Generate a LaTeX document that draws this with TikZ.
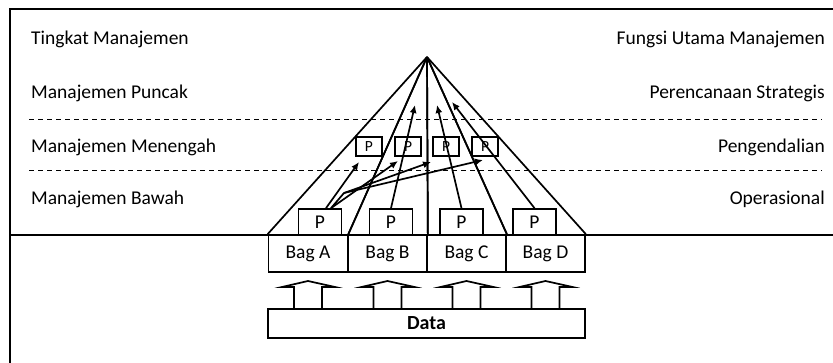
\documentclass[tikz,border=0pt]{standalone}
\usepackage{fontspec}
\setmainfont{Carlito}
\usetikzlibrary{arrows.meta}
\begin{document}
\begin{tikzpicture}[x=1pt,y=-1pt,
  lbl/.style={font=\fontsize{19.5}{22}\selectfont, inner sep=0pt},
  box/.style={draw, line width=1.7pt, inner sep=0pt, font=\fontsize{19.5}{22}\selectfont},
  bagbox/.style={box, minimum width=79pt, minimum height=37pt},
  pbig/.style={box, minimum width=43pt, minimum height=26pt},
  psmall/.style={box, minimum width=26pt, minimum height=19pt, font=\fontsize{15.5}{17}\selectfont},
  frame/.style={line width=1.7pt},
  apexline/.style={line width=1.7pt},
  arr/.style={line width=1.7pt, -{Latex[length=8pt,width=7pt]}},
  level/.style={dashed, line width=0.9pt, dash pattern=on 5pt off 4pt}]
\useasboundingbox (0,0) rectangle (833,363);
% frame
\draw[frame] (10,363) -- (10,9) -- (833,9);
\draw[frame] (10,235) -- (833,235);
\draw[level] (29,119) -- (822,119);
\draw[level] (29,170) -- (822,170);
% labels
\node[lbl, anchor=base west] (t1) at (31,45) {Tingkat Manajemen};
\node[lbl, anchor=base west] (t2) at (31,99) {Manajemen Puncak};
\node[lbl, anchor=base west] (t3) at (31,153) {Manajemen Menengah};
\node[lbl, anchor=base west] (t4) at (31,205) {Manajemen Bawah};
\node[lbl, anchor=base east] (f1) at (825,45) {Fungsi Utama Manajemen};
\node[lbl, anchor=base east] (f2) at (825,99) {Perencanaan Strategis};
\node[lbl, anchor=base east] (f3) at (825,153) {Pengendalian};
\node[lbl, anchor=base east] (f4) at (825,205) {Operasional};
% bags
\node[bagbox] (bagA) at (308,253.5) {Bag A};
\node[bagbox] (bagB) at (387.5,253.5) {Bag B};
\node[bagbox] (bagC) at (466.5,253.5) {Bag C};
\node[bagbox] (bagD) at (545.5,253.5) {Bag D};
\node[box, minimum width=317pt, minimum height=29pt, font=\fontsize{20}{22}\selectfont\bfseries] (data) at (426.5,323.5) {Data};
% up arrows
\foreach \c in {308,387.5,466.5,545.5}
  \draw[line width=1.7pt] (\c-14,309) -- (\c-14,287) -- (\c-26,287) -- (\c,281) -- (\c+27,287) -- (\c+14,287) -- (\c+14,309);
% pyramid
\coordinate (apex) at (427,57);
\draw[apexline] (apex) -- (bagA.north west);
\draw[apexline] (apex) -- (bagA.north east);
\draw[apexline] (apex) -- (bagB.north east);
\draw[apexline] (apex) -- (bagC.north east);
\draw[apexline] (apex) -- (bagD.north east);
% P boxes
\node[pbig] (pA) at (320,222) {P};
\node[pbig] (pB) at (391,222) {P};
\node[pbig] (pC) at (461.5,222) {P};
\node[pbig] (pD) at (534.5,222) {P};
\node[psmall, fill=white] (s1) at (369,146.5) {P};
\node[psmall, fill=white] (s2) at (408,146.5) {P};
\node[psmall, fill=white] (s3) at (446,146.5) {P};
\node[psmall, fill=white] (s4) at (485,146.5) {P};
% apex lines cross the small boxes
\draw[apexline] (apex) -- (bagA.north east);
\draw[apexline] (apex) -- (bagB.north east);
\draw[apexline] (apex) -- (bagC.north east);
% arrows
\coordinate (eB) at (415,105);
\coordinate (eC) at (437,105);
\coordinate (eD) at (452,102);
\draw[arr] (pB.north) -- (eB);
\draw[arr] (pC.north) -- (eC);
\draw[arr] (pD.north) -- (eD);
\coordinate (e1) at (359,162);
\coordinate (e2) at (398,161);
\coordinate (e3) at (431,162);
\coordinate (e4) at (483,160);
\coordinate (bend) at (344,193);
\draw[arr] ([xshift=6pt]pA.north) -- (e1);
\draw[arr] ([xshift=11pt]pA.north) -- (e2);
\draw[arr] ([xshift=11pt]pA.north) -- (bend) -- (e3);
\draw[arr] (bend) -- (e4);
\end{tikzpicture}
\end{document}
